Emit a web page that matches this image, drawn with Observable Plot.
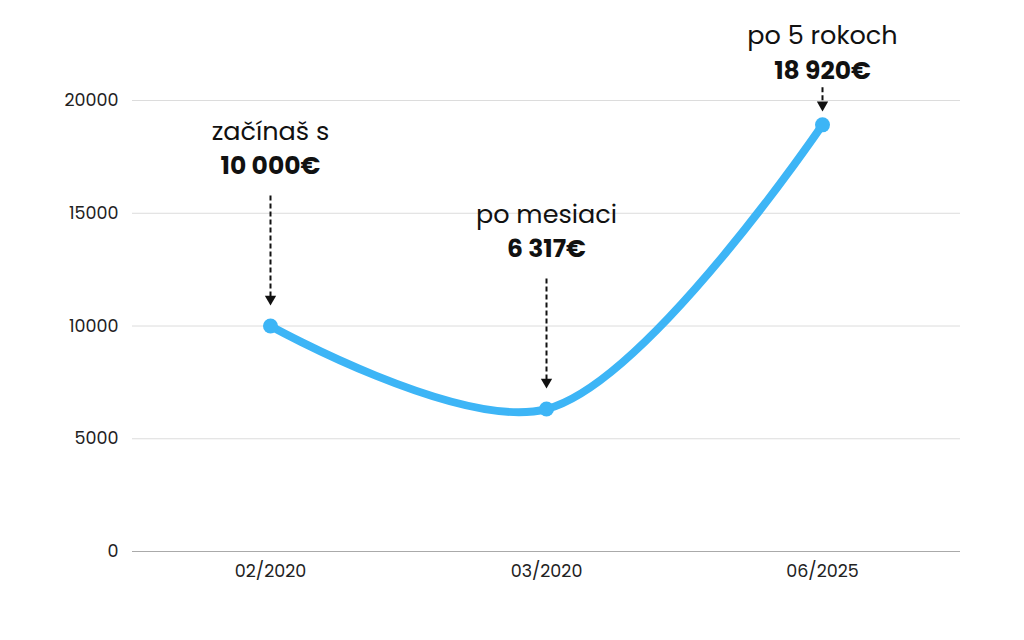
<!DOCTYPE html>
<html>
<head>
<meta charset="utf-8">
<script src="https://cdn.jsdelivr.net/npm/d3@7"></script>
<script src="https://cdn.jsdelivr.net/npm/@observablehq/plot@0.6"></script>
<style>
  html, body { margin: 0; padding: 0; background: #fff; }
  #chart { width: 1024px; height: 640px; }
</style>
</head>
<body>
<div id="chart"></div>
<script>
const dates = ["02/2020", "03/2020", "06/2025"];
const values = [10000, 6317, 18920];
const captions = ["začínaš s", "po mesiaci", "po 5 rokoch"];
const amounts = ["10 000€", "6 317€", "18 920€"];
const yTicks = [0, 5000, 10000, 15000, 20000];

const data = dates.map((d, i) => ({date: d, value: values[i], caption: captions[i], amount: amounts[i]}));

const W = 1024, H = 640;
const mL = 132, mR = 64, mT = 100, mB = 89;
const font = "Poppins, 'Open Sans', sans-serif";
const blue = "#3db5f6";

const yScale = Plot.scale({y: {domain: [0, 20000], range: [H - mB, mT]}});
const lift = (v, px) => yScale.invert(yScale.apply(v) - px);

const tall = (d, i) => i < 2;
const short = (d, i) => i === 2;

const arrows = data.map((d, i) => ({
  date: d.date,
  top: lift(d.value, i < 2 ? 130 : 37),
  tip: lift(d.value, i < 2 ? 28 : 21),
  head: lift(d.value, i < 2 ? 27 : 20)
}));

const chart = Plot.plot({
  width: W,
  height: H,
  marginLeft: mL,
  marginRight: mR,
  marginTop: mT,
  marginBottom: mB,
  style: {fontFamily: font, fontSize: "17.5px", color: "#222", background: "#fff"},
  x: {type: "point", domain: dates, padding: 0.5, label: null},
  y: {domain: [0, 20000], label: null},
  marks: [
    Plot.gridY(yTicks, {stroke: "#dcdcdc", strokeOpacity: 1, strokeWidth: 1}),
    Plot.axisY(yTicks, {tickSize: 0, tickPadding: 14, fontSize: 17.5, fill: "#222", label: null, tickFormat: d3.format("d")}),
    Plot.axisX({tickSize: 0, tickPadding: 13, fontSize: 17.5, fill: "#222", label: null}),
    Plot.ruleY([0], {stroke: "#aaaaaa", strokeWidth: 1.2}),
    Plot.line(data, {x: "date", y: "value", stroke: blue, strokeWidth: 8, curve: "catmull-rom", strokeLinecap: "round"}),
    Plot.dot(data, {x: "date", y: "value", r: 7.5, fill: blue, stroke: "none"}),
    Plot.ruleX(arrows, {x: "date", y1: "top", y2: "tip", stroke: "#111", strokeWidth: 2, strokeDasharray: "5,3"}),
    Plot.dot(arrows, {x: "date", y: "head", symbol: "triangle", r: 4.2, fill: "#111", stroke: "none", rotate: 180}),
    Plot.text(data, {filter: tall, x: "date", y: "value", text: "caption", dy: -194, fontSize: 25.5, fill: "#111", fontWeight: 400}),
    Plot.text(data, {filter: tall, x: "date", y: "value", text: "amount", dy: -160, fontSize: 25, fill: "#111", fontWeight: 700}),
    Plot.text(data, {filter: short, x: "date", y: "value", text: "caption", dy: -89, fontSize: 25.5, fill: "#111", fontWeight: 400}),
    Plot.text(data, {filter: short, x: "date", y: "value", text: "amount", dy: -54, fontSize: 25, fill: "#111", fontWeight: 700})
  ]
});
document.getElementById("chart").appendChild(chart);
</script>
</body>
</html>
